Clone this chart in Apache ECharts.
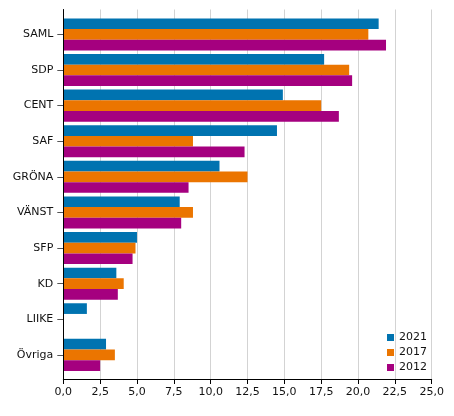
<!DOCTYPE html>
<html><head><meta charset="utf-8">
<script src="https://cdn.jsdelivr.net/npm/echarts@6/dist/echarts.min.js"></script>
<style>html,body{margin:0;padding:0;background:#fff}#c{width:454px;height:416px}</style>
</head><body><div id="c"></div>
<script>
const categories = ['SAML','SDP','CENT','SAF','GRÖNA','VÄNST','SFP','KD','LIIKE','Övriga'];
const years = ['2021','2017','2012'];
const v2021 = [21.4, 17.7, 14.9, 14.5, 10.6, 7.9, 5.0, 3.6, 1.6, 2.9];
const v2017 = [20.7, 19.4, 17.5, 8.8, 12.5, 8.8, 4.9, 4.1, null, 3.5];
const v2012 = [21.9, 19.6, 18.7, 12.3, 8.5, 8.0, 4.7, 3.7, null, 2.5];
const xTicks = [0, 2.5, 5, 7.5, 10, 12.5, 15, 17.5, 20, 22.5, 25];
const colors = ['#0073b0', '#eb7500', '#a5007f'];
const font = 'DejaVu Sans';

const chart = echarts.init(document.getElementById('c'), null, {renderer:'canvas'});
chart.setOption({
  animation: false,
  color: colors,
  textStyle: {fontFamily: font},
  grid: [
    {left: 63.3, right: 22.3, top: 9.5, bottom: 37},
    {left: 63.3, right: 22.3, top: 16.6, bottom: 43.3}
  ],
  xAxis: [
    {type: 'value', gridIndex: 0, min: xTicks[0], max: xTicks[xTicks.length-1], interval: 2.5,
     axisLine: {show: true, lineStyle: {color: '#000', width: 1}},
     axisTick: {show: true, length: 5, lineStyle: {color: '#000'}},
     axisLabel: {margin: 8, color: '#111', fontSize: 11, fontFamily: font,
       formatter: v => v.toFixed(1).replace('.', ',')},
     splitLine: {show: true, lineStyle: {color: '#d3d3d3', width: 1}}},
    {type: 'value', gridIndex: 1, min: xTicks[0], max: xTicks[xTicks.length-1], show: false}
  ],
  yAxis: [
    {type: 'category', gridIndex: 0, data: [''], z: 5,
     axisLine: {show: true, lineStyle: {color: '#000', width: 1}},
     axisTick: {show: false}, axisLabel: {show: false}, splitLine: {show: false}},
    {type: 'category', gridIndex: 1, data: categories, inverse: true,
     axisLine: {show: false},
     axisTick: {show: true, length: 6, alignWithLabel: true, lineStyle: {color: '#555'}},
     axisLabel: {margin: 10, color: '#111', fontSize: 11, fontFamily: font},
     splitLine: {show: false}}
  ],
  legend: {
    orient: 'vertical', right: 22, top: 327,
    itemWidth: 7, itemHeight: 7, itemGap: 4, icon: 'rect',
    textStyle: {fontSize: 11, color: '#111', fontFamily: font},
    data: years
  },
  series: [
    {name: years[0], type: 'bar', xAxisIndex: 1, yAxisIndex: 1, data: v2021, barGap: '0%', barCategoryGap: '10%'},
    {name: years[1], type: 'bar', xAxisIndex: 1, yAxisIndex: 1, data: v2017, barGap: '0%', barCategoryGap: '10%'},
    {name: years[2], type: 'bar', xAxisIndex: 1, yAxisIndex: 1, data: v2012, barGap: '0%', barCategoryGap: '10%'}
  ]
});
</script></body></html>
